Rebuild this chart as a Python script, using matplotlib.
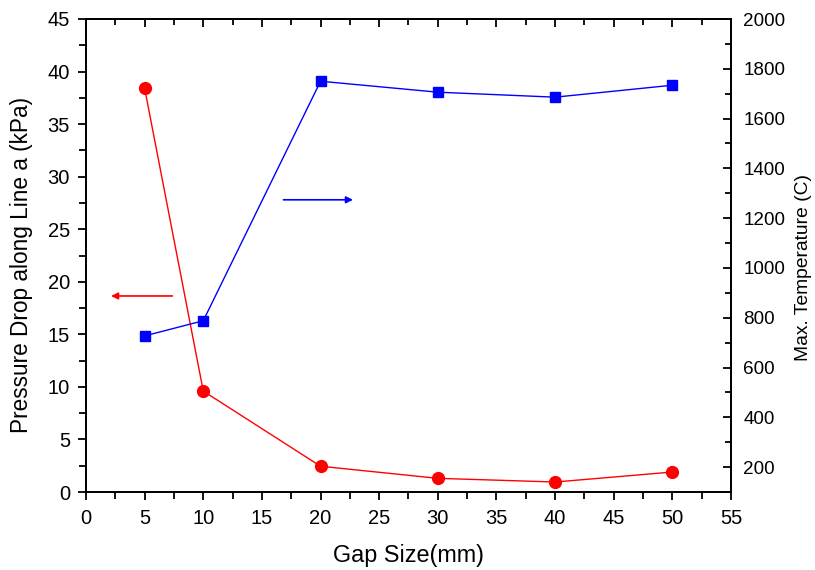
import matplotlib
matplotlib.use('Agg')
import matplotlib.pyplot as plt
from matplotlib.ticker import MultipleLocator

plt.rcParams['font.family'] = ['Liberation Sans', 'DejaVu Sans']

# data
gap = [5, 10, 20, 30, 40, 50]
pressure_drop = [38.4, 9.6, 2.45, 1.3, 0.95, 1.9]
max_temp = [727, 788, 1750, 1706, 1686, 1734]

fig = plt.figure(figsize=(8.15, 5.7), dpi=100)
ax1 = fig.add_axes([86/815, 1 - 492/570, (731-86)/815, (492-19)/570])

ax1.plot(gap, pressure_drop, color='red', marker='o', ms=8.5, lw=1.0)
ax1.set_xlim(0, 55)
ax1.set_ylim(0, 45)
ax1.xaxis.set_major_locator(MultipleLocator(5))
ax1.xaxis.set_minor_locator(MultipleLocator(2.5))
ax1.yaxis.set_major_locator(MultipleLocator(5))
ax1.yaxis.set_minor_locator(MultipleLocator(2.5))
ax1.set_xlabel('Gap Size(mm)', fontsize=16.8, labelpad=11)
ax1.set_ylabel('Pressure Drop along Line a (kPa)', fontsize=16.3)
ax1.yaxis.set_label_coords(-0.082, 0.48)
ax1.tick_params(which='both', direction='out', width=1.3, labelsize=14.5, top=False)
ax1.tick_params(axis='x', pad=6.5)
ax1.tick_params(axis='y', pad=5.5)
ax1.tick_params(which='major', length=6)
ax1.tick_params(which='minor', length=5)
for s in ax1.spines.values():
    s.set_linewidth(1.3)

# top mirror ticks pointing inward
axt = ax1.secondary_xaxis('top')
axt.xaxis.set_major_locator(MultipleLocator(5))
axt.xaxis.set_minor_locator(MultipleLocator(2.5))
axt.tick_params(which='both', direction='in', width=1.3, labeltop=False)
axt.tick_params(which='major', length=6)
axt.tick_params(which='minor', length=4)
axt.spines['top'].set_linewidth(1.3)

ax2 = ax1.twinx()
ax2.plot(gap, max_temp, color='blue', marker='s', ms=7.5, lw=1.0)
ax2.set_ylim(100, 2000)
ax2.yaxis.set_major_locator(MultipleLocator(200))
ax2.yaxis.set_minor_locator(MultipleLocator(100))
ax2.set_ylabel('Max. Temperature (C)', fontsize=13.9)
ax2.yaxis.set_label_coords(1.099, 0.475)
ax2.tick_params(which='both', direction='in', width=1.3, labelsize=13.6, pad=9)
ax2.tick_params(which='major', length=6)
ax2.tick_params(which='minor', length=4)
for s in ax2.spines.values():
    s.set_linewidth(1.3)

# arrows pointing to the matching axis
ax1.annotate('', xy=(1.9, 18.65), xytext=(7.6, 18.65),
             arrowprops=dict(arrowstyle='-|>', color='red', lw=1.2, mutation_scale=10))
ax1.annotate('', xy=(23.0, 27.8), xytext=(16.6, 27.8),
             arrowprops=dict(arrowstyle='-|>', color='blue', lw=1.2, mutation_scale=10))

fig.savefig('out.png', dpi=100)
